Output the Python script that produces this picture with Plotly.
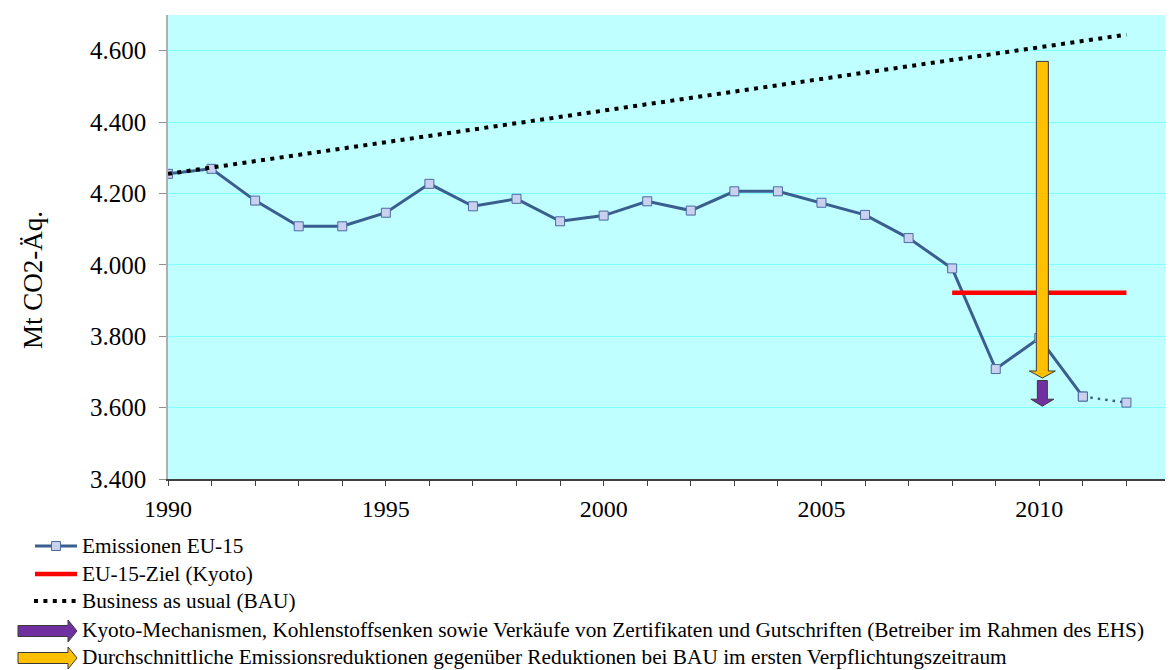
import plotly.graph_objects as go

# ---------------- data ----------------
years = list(range(1990, 2013))
emissions = [4255, 4269, 4180, 4108, 4108, 4146, 4227, 4164, 4185, 4122,
             4138, 4178, 4152, 4206, 4206, 4174, 4140, 4075, 3990, 3708,
             3795, 3631, 3614]
target_years = [2008, 2012]
target_values = [3922, 3922]
bau_years = [1990, 2012]
bau_values = [4255, 4645]
# arrows: [start value, tip value]
reduction_arrow = [4570, 3683]      # yellow: average reduction vs BAU
mechanism_arrow = [3676, 3604]      # purple: Kyoto mechanisms etc.

legend_labels = [
    "Emissionen EU-15",
    "EU-15-Ziel (Kyoto)",
    "Business as usual (BAU)",
    "Kyoto-Mechanismen, Kohlenstoffsenken sowie Verkäufe von Zertifikaten und Gutschriften (Betreiber im Rahmen des EHS)",
    "Durchschnittliche Emissionsreduktionen gegenüber Reduktionen bei BAU im ersten Verpflichtungszeitraum",
]
y_title = "Mt CO2-Äq."

# ---------------- layout geometry (page pixels) ----------------
OFF = 8                      # default body margin of the html page
PAGE_W, PAGE_H = 1173, 670
W, H = PAGE_W - OFF, PAGE_H - OFF
P_LEFT, P_RIGHT, P_TOP, P_BOTTOM = 168, 1170, 15, 479   # plot area on the page
L = P_LEFT - OFF
T = P_TOP - OFF
R = W - (P_RIGHT - OFF)
B = H - (P_BOTTOM - OFF)
X_RANGE = [1990, 2013]
Y_RANGE = [3400, 4700]
PW, PH = P_RIGHT - P_LEFT, P_BOTTOM - P_TOP
XU = (X_RANGE[1] - X_RANGE[0]) / PW   # years per pixel
YU = (Y_RANGE[1] - Y_RANGE[0]) / PH   # value per pixel

LINE_BLUE = "#3A5F8F"
MARKER_FILL = "#C9D1EE"
MARKER_EDGE = "#4A6AA2"
RED = "#FF0000"
YELLOW = "#FFC000"
PURPLE = "#7030A0"
FONT = "Liberation Serif, Times New Roman, serif"

def pxx(xp):
    return (xp - P_LEFT) / PW

def pxy(yp):
    return (P_BOTTOM - yp) / PH

fig = go.Figure()

fig.add_trace(go.Scatter(
    x=years[:-1], y=emissions[:-1], mode="lines+markers",
    line=dict(color=LINE_BLUE, width=3),
    marker=dict(symbol="square", size=9, color=MARKER_FILL,
                line=dict(color=MARKER_EDGE, width=1)),
    showlegend=False, name=legend_labels[0]))
fig.add_trace(go.Scatter(
    x=years[-2:], y=emissions[-2:], mode="lines+markers",
    line=dict(color=LINE_BLUE, width=2.5, dash="2.5px,5px"),
    marker=dict(symbol="square", size=9, color=MARKER_FILL,
                line=dict(color=MARKER_EDGE, width=1)),
    showlegend=False, name=legend_labels[0]))
fig.add_trace(go.Scatter(
    x=target_years, y=target_values, mode="lines",
    line=dict(color=RED, width=4.5), showlegend=False, name=legend_labels[1]))
fig.add_trace(go.Scatter(
    x=bau_years, y=bau_values, mode="lines",
    line=dict(color="black", width=4, dash="4px,5.4px"),
    showlegend=False, name=legend_labels[2]))

shapes = []

def down_arrow(xc, top, tip, shaft_half_px, head_half_px, head_len_px, color):
    sh = shaft_half_px * XU
    hh = head_half_px * XU
    hb = tip + head_len_px * YU
    path = (f"M{xc - sh},{top} L{xc + sh},{top} L{xc + sh},{hb} "
            f"L{xc + hh},{hb} L{xc},{tip} L{xc - hh},{hb} L{xc - sh},{hb} Z")
    return dict(type="path", xref="x", yref="y", path=path,
                fillcolor=color, line=dict(color="#3A3A3A", width=1), layer="above")

ARROW_X = 2010.07
shapes.append(down_arrow(ARROW_X, reduction_arrow[0], reduction_arrow[1], 6, 13, 7, YELLOW))
shapes.append(down_arrow(ARROW_X, mechanism_arrow[0], mechanism_arrow[1], 5, 11.5, 7, PURPLE))

# ---------------- manual legend ----------------
row_y = [546, 574, 601, 630, 657]
text_x = 80
shapes.append(dict(type="line", xref="paper", yref="paper",
                   x0=pxx(35), x1=pxx(77), y0=pxy(row_y[0]), y1=pxy(row_y[0]),
                   line=dict(color=LINE_BLUE, width=3)))
shapes.append(dict(type="rect", xref="paper", yref="paper",
                   x0=pxx(51.5), x1=pxx(60.5), y0=pxy(row_y[0] - 4.5), y1=pxy(row_y[0] + 4.5),
                   fillcolor=MARKER_FILL, line=dict(color=MARKER_EDGE, width=1)))
shapes.append(dict(type="line", xref="paper", yref="paper",
                   x0=pxx(35), x1=pxx(77), y0=pxy(row_y[1]), y1=pxy(row_y[1]),
                   line=dict(color=RED, width=4.5)))
shapes.append(dict(type="line", xref="paper", yref="paper",
                   x0=pxx(34), x1=pxx(78), y0=pxy(row_y[2]), y1=pxy(row_y[2]),
                   line=dict(color="black", width=4, dash="4px,5.4px")))

def right_arrow_paper(x0, x1, head_start, yc, shaft_half, head_half, color):
    pts = [(x0, yc - shaft_half), (head_start, yc - shaft_half), (head_start, yc - head_half),
           (x1, yc), (head_start, yc + head_half), (head_start, yc + shaft_half),
           (x0, yc + shaft_half)]
    path = "M" + " L".join(f"{pxx(a)},{pxy(b)}" for a, b in pts) + " Z"
    return dict(type="path", xref="paper", yref="paper", path=path,
                fillcolor=color, line=dict(color="#3A3A3A", width=1))

shapes.append(right_arrow_paper(18, 77, 68, row_y[3] + 1, 5.5, 11, PURPLE))
shapes.append(right_arrow_paper(18, 77, 68, row_y[4] + 1, 5.5, 11, YELLOW))

annotations = []
for lbl, yy in zip(legend_labels, row_y):
    annotations.append(dict(text=lbl, xref="paper", yref="paper",
                            x=pxx(text_x), y=pxy(yy), xanchor="left", yanchor="middle",
                            showarrow=False, font=dict(family=FONT, size=21.3, color="black")))
# y-axis title
annotations.append(dict(text=y_title, xref="paper", yref="paper",
                        x=pxx(33), y=pxy(280), xanchor="center", yanchor="middle",
                        textangle=-90, showarrow=False,
                        font=dict(family=FONT, size=27, color="black")))

fig.update_layout(
    width=W, height=H,
    margin=dict(l=L, r=R, t=T, b=B, pad=0),
    paper_bgcolor="white", plot_bgcolor="#C0FFFF",
    separators=",.",
    shapes=shapes, annotations=annotations,
    showlegend=False,
    font=dict(family=FONT, color="black"),
)
fig.update_xaxes(
    range=X_RANGE, tick0=1990, dtick=5, showgrid=False, zeroline=False,
    showline=True, linecolor="#404040", linewidth=1.5,
    ticks="outside", ticklen=5, tickcolor="#404040", tickwidth=1,
    minor=dict(dtick=1, ticks="outside", ticklen=5, tickcolor="#404040", showgrid=False),
    tickfont=dict(family=FONT, size=24, color="black"), ticklabelstandoff=2,
)
fig.update_yaxes(
    range=Y_RANGE, tick0=3400, dtick=200, tickformat=",.0f",
    showgrid=True, gridcolor="#80FFFF", gridwidth=1, zeroline=False,
    showline=True, linecolor="#B0B0B0", linewidth=1.5,
    ticks="outside", ticklen=7, tickcolor="#909090",
    tickfont=dict(family=FONT, size=25, color="black"), ticklabelstandoff=8,
)

fig.write_html("out.html")
